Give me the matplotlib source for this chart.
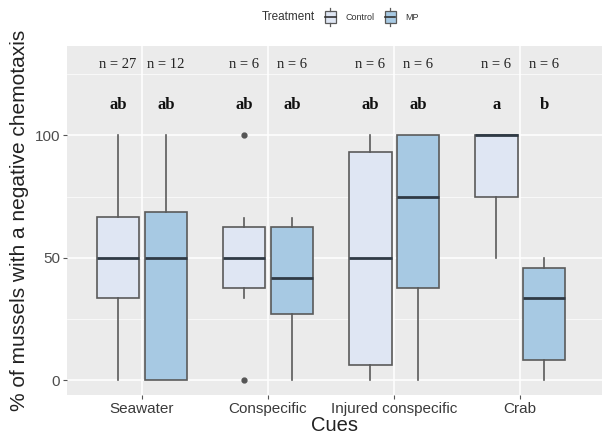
import matplotlib.pyplot as plt
from matplotlib.patches import Rectangle
from matplotlib.lines import Line2D

plt.rcParams['font.family'] = ['Liberation Sans', 'DejaVu Sans']

# data
cues = ["Seawater", "Conspecific", "Injured conspecific", "Crab"]
treatments = ["Control", "MP"]

q1 = {"Control": [33.4, 37.7, 6.1, 75.0], "MP": [0.0, 27.1, 37.7, 8.3]}
med = {"Control": [50.0, 50.0, 50.0, 100.0], "MP": [50.0, 41.7, 75.0, 33.4]}
q3 = {"Control": [66.5, 62.4, 93.3, 100.0], "MP": [68.7, 62.4, 100.0, 45.8]}
wlo = {"Control": [0.0, 33.4, 0.0, 50.0], "MP": [0.0, 0.0, 0.0, 0.0]}
whi = {"Control": [100.0, 66.4, 100.0, 100.0], "MP": [100.0, 66.4, 100.0, 50.0]}
fliers = {"Control": [[], [0.0, 100.0], [], []], "MP": [[], [], [], []]}

n_labels = {"Control": ["n = 27", "n = 6", "n = 6", "n = 6"],
            "MP": ["n = 12", "n = 6", "n = 6", "n = 6"]}
letters = {"Control": ["ab", "ab", "ab", "a"], "MP": ["ab", "ab", "ab", "b"]}

colors = {"Control": "#dfe6f3", "MP": "#a7c9e3"}
edge = "#5a5a5a"
offset = {"Control": -0.19, "MP": 0.19}

fig = plt.figure(figsize=(6.02, 4.34), dpi=100)
ax = fig.add_axes([67 / 602, 1 - 395 / 434, 1 - 67 / 602, (395 - 46) / 434])
ax.set_facecolor("#ebebeb")

for t in treatments:
    stats = []
    for i in range(len(cues)):
        stats.append(dict(q1=q1[t][i], med=med[t][i], q3=q3[t][i],
                          whislo=wlo[t][i], whishi=whi[t][i], fliers=fliers[t][i]))
    pos = [i + 1 + offset[t] for i in range(len(cues))]
    ax.bxp(stats, positions=pos, widths=0.34, patch_artist=True, showcaps=False,
           boxprops=dict(facecolor=colors[t], edgecolor=edge, linewidth=1.2),
           medianprops=dict(color="#2f3a45", linewidth=2.0),
           whiskerprops=dict(color=edge, linewidth=1.2),
           flierprops=dict(marker="o", markersize=3.5, markerfacecolor="#555555",
                           markeredgecolor="#555555"),
           zorder=3)
    for i in range(len(cues)):
        ax.text(pos[i], 129, n_labels[t][i], ha="center", va="center",
                fontsize=10.5, family="Liberation Serif", color="#222222")
        ax.text(pos[i], 112.4, letters[t][i], ha="center", va="center",
                fontsize=12, family="Liberation Serif", fontweight="bold", color="#111111")

ax.set_xlim(0.405, 4.65)
ax.set_ylim(-6.1, 136.5)
ax.set_xticks(range(1, len(cues) + 1))
ax.set_xticklabels(cues, fontsize=11, color="#3a3a3a")
ax.set_yticks([0, 50, 100])
ax.set_yticklabels(["0", "50", "100"], fontsize=11, color="#4d4d4d")
ax.set_yticks([25, 75, 125], minor=True)
ax.tick_params(axis="both", which="major", length=3, color="#555555", width=0.8, pad=2)
ax.tick_params(axis="y", which="minor", length=0)
ax.grid(True, which="major", color="white", linewidth=1.1, zorder=0)
ax.grid(True, which="minor", axis="y", color="white", linewidth=0.5, zorder=0)
ax.set_axisbelow(True)
for s in ax.spines.values():
    s.set_visible(False)

ax.set_ylabel("% of mussels with a negative chemotaxis", fontsize=15, color="#222222", labelpad=4)
ax.set_xlabel("Cues", fontsize=14.5, color="#222222", labelpad=0)

# legend at the top
W, H = 602, 434
fig.text(262 / W, 1 - 17 / H, "Treatment", fontsize=8.5, color="#333333", va="center", ha="left")
icon_x = {"Control": 323, "MP": 383}
label_x = {"Control": 345, "MP": 405}
for t in treatments:
    x0 = icon_x[t]
    fig.add_artist(Rectangle(((x0 + 1.5) / W, 1 - 23 / H), 11 / W, 12 / H, transform=fig.transFigure,
                             facecolor=colors[t], edgecolor=edge, linewidth=0.9))
    fig.add_artist(Line2D([(x0 + 1.5) / W, (x0 + 12.5) / W], [1 - 17 / H, 1 - 17 / H],
                          transform=fig.transFigure, color="#333333", linewidth=1.2))
    fig.add_artist(Line2D([(x0 + 7) / W, (x0 + 7) / W], [1 - 11 / H, 1 - 8 / H],
                          transform=fig.transFigure, color=edge, linewidth=0.9))
    fig.add_artist(Line2D([(x0 + 7) / W, (x0 + 7) / W], [1 - 26 / H, 1 - 23 / H],
                          transform=fig.transFigure, color=edge, linewidth=0.9))
    fig.text(label_x[t] / W, 1 - 17 / H, t, fontsize=6.5, color="#333333", va="center", ha="left")

fig.savefig("out.png", dpi=100, facecolor="white")
